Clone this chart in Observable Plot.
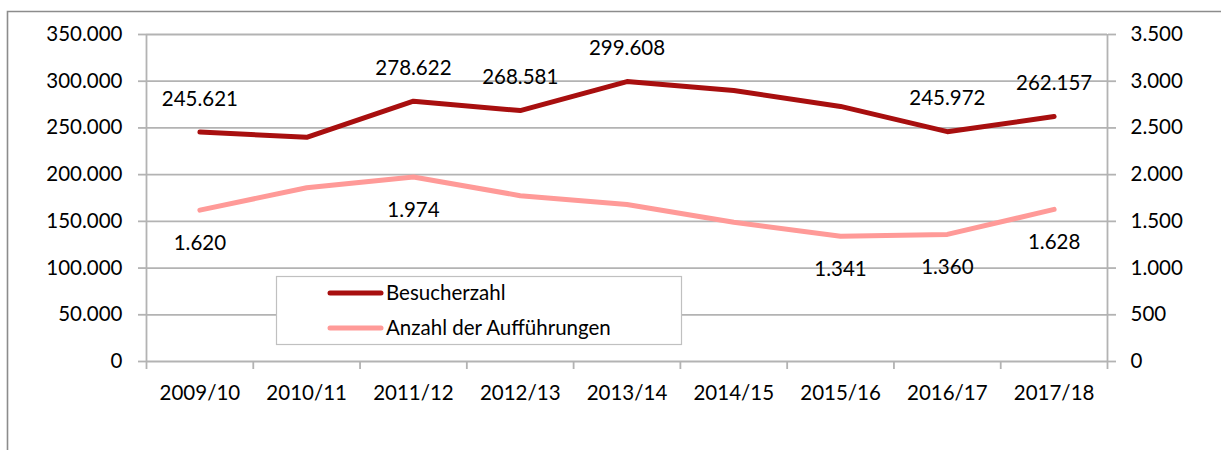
<!DOCTYPE html>
<html><head><meta charset="utf-8">
<script src="https://cdn.jsdelivr.net/npm/d3@7"></script>
<script src="https://cdn.jsdelivr.net/npm/@observablehq/plot@0.6"></script>
<style>
html,body{margin:0;padding:0;background:#fff;}
#chart{width:1221px;height:450px;}
</style></head><body><div id="chart"></div>
<script>
const categories = ["2009/10","2010/11","2011/12","2012/13","2013/14","2014/15","2015/16","2016/17","2017/18"];
const visitors = [245621, 240000, 278622, 268581, 299608, 290000, 273000, 245972, 262157];
const performances = [1620, 1860, 1974, 1775, 1680, 1490, 1341, 1360, 1628];
const visitorLabelShown = [true,false,true,true,true,false,false,true,true];
const performanceLabelShown = [true,false,true,false,false,false,true,true,true];
const leftTicks = [0,50000,100000,150000,200000,250000,300000,350000];
const rightTicks = [0,500,1000,1500,2000,2500,3000,3500];
const seriesNames = ["Besucherzahl","Anzahl der Aufführungen"];
const seriesColors = ["#a80f0f","#ff9a98"];

const ratio = 100;
const de = n => d3.format(",")(n).replace(/,/g, ".");
const rows = categories.map((c,i)=>({i, c, v: visitors[i], p: performances[i]*ratio, praw: performances[i], vl: visitorLabelShown[i], pl: performanceLabelShown[i]}));
const boundaries = d3.range(categories.length+1).map(i=>i-0.5);
const grid = "#b3b3b3";
const font = "Lato, 'Open Sans', sans-serif";
const fs = 20.5;

const svg = Plot.plot({
  width:1221, height:450, marginLeft:146, marginRight:114, marginTop:34, marginBottom:89,
  x:{type:"linear", domain:[-0.5, categories.length-0.5], label:null},
  y:{domain:[0,350000], label:null},
  style:{fontFamily:font, fontSize:fs+"px", color:"#000", background:"#fff"},
  marks:[
    Plot.ruleY(leftTicks, {stroke:grid, strokeWidth:1.8}),
    Plot.ruleX([-0.5, categories.length-0.5], {y1:0, y2:350000, stroke:grid, strokeWidth:1.8}),
    Plot.axisY({anchor:"left", label:null, ticks:leftTicks, tickSize:8, tickPadding:16, tickFormat:de, stroke:grid, strokeWidth:1.8, fontSize:fs, fill:"#000"}),
    Plot.axisY({anchor:"right", label:null, ticks:rightTicks.map(t=>t*ratio), tickSize:8, tickPadding:15, tickFormat:d=>de(d/ratio), stroke:grid, strokeWidth:1.8, fontSize:fs, fill:"#000", textAnchor:"start"}),
    Plot.axisX({label:null, ticks:boundaries, tickSize:8, tickFormat:()=>"", stroke:grid, strokeWidth:1.8}),
    Plot.axisX({label:null, ticks:d3.range(categories.length), tickSize:0, tickPadding:24, tickFormat:i=>categories[i], fontSize:fs, fill:"#000"}),
    Plot.lineY(rows, {x:"i", y:"v", stroke:seriesColors[0], strokeWidth:5, strokeLinecap:"round", strokeLinejoin:"round"}),
    Plot.lineY(rows, {x:"i", y:"p", stroke:seriesColors[1], strokeWidth:5, strokeLinecap:"round", strokeLinejoin:"round"}),
    Plot.text(rows.filter(d=>d.vl), {x:"i", y:"v", text:d=>de(d.v), dy:-33, fontSize:fs, fill:"#000"}),
    Plot.text(rows.filter(d=>d.pl), {x:"i", y:"p", text:d=>de(d.praw), dy:33, fontSize:fs, fill:"#000"})
  ]
});

const s = d3.select(svg);
s.append("path").attr("d","M7.5,450 V11.5 H1221").attr("fill","none").attr("stroke","#8c8c8c").attr("stroke-width",1.6);
const lg = s.append("g").attr("font-family", font).attr("font-size", fs).attr("text-anchor","start");
lg.append("rect").attr("x",276.5).attr("y",276.5).attr("width",405).attr("height",68).attr("fill","#fff").attr("stroke","#c0c0c0").attr("stroke-width",1.2);
seriesNames.forEach((n,k)=>{
  const y = 293 + k*35;
  lg.append("line").attr("x1",330).attr("x2",381).attr("y1",y).attr("y2",y).attr("stroke",seriesColors[k]).attr("stroke-width",5).attr("stroke-linecap","round");
  lg.append("text").attr("x",386).attr("y",y).attr("dy","0.35em").attr("fill","#000").attr("text-anchor","start").text(n);
});
document.getElementById("chart").appendChild(svg);
</script></body></html>
